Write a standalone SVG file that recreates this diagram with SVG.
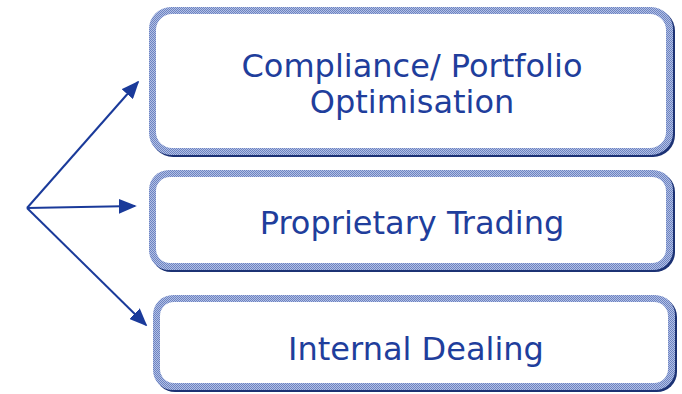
<svg xmlns="http://www.w3.org/2000/svg" width="682" height="394" viewBox="0 0 682 394">
<style>
.shadow{fill:#1c3274}
.frame{fill:url(#chk)}
.inner{fill:#ffffff}
.lbl{font-family:"DejaVu Sans",Verdana,sans-serif;font-size:32px;fill:#1f3e9c;text-anchor:middle}
.arr{stroke:#1a3a9a;stroke-width:2;fill:none;marker-end:url(#ah)}
</style>
<defs>
<pattern id="chk" width="2" height="2" patternUnits="userSpaceOnUse">
<rect width="2" height="2" fill="#b3c0e4"/>
<rect width="1" height="1" fill="#6c83c2"/>
<rect x="1" y="1" width="1" height="1" fill="#6c83c2"/>
</pattern>
<marker id="ah" viewBox="0 0 10 10" refX="9" refY="5" markerWidth="18" markerHeight="15" markerUnits="userSpaceOnUse" orient="auto" preserveAspectRatio="none">
<path d="M0,0 L10,5 L0,10 z" fill="#1a3a9a"/>
</marker>
</defs>
<g id="connectors">
<line x1="27" y1="208" x2="138" y2="82" class="arr"/>
<line x1="27" y1="208" x2="135" y2="206" class="arr"/>
<line x1="27" y1="208" x2="146" y2="325" class="arr"/>
</g>
<g id="box1">
<rect class="shadow" x="151" y="9" width="524" height="148" rx="22"/>
<rect class="frame" x="149" y="7" width="524" height="148" rx="22"/>
<rect class="inner" x="156" y="14" width="510" height="134" rx="16"/>
<text class="lbl" x="412" y="77">Compliance/ Portfolio</text>
<text class="lbl" x="412" y="113">Optimisation</text>
</g>
<g id="box2">
<rect class="shadow" x="151" y="172" width="524" height="100" rx="20"/>
<rect class="frame" x="149" y="170" width="524" height="100" rx="20"/>
<rect class="inner" x="156" y="177" width="510" height="86" rx="14"/>
<text class="lbl" x="412" y="234">Proprietary Trading</text>
</g>
<g id="box3">
<rect class="shadow" x="155" y="297" width="522" height="95" rx="20"/>
<rect class="frame" x="153" y="295" width="522" height="95" rx="20"/>
<rect class="inner" x="160" y="302" width="508" height="81" rx="14"/>
<text class="lbl" x="416" y="360">Internal Dealing</text>
</g>
</svg>
